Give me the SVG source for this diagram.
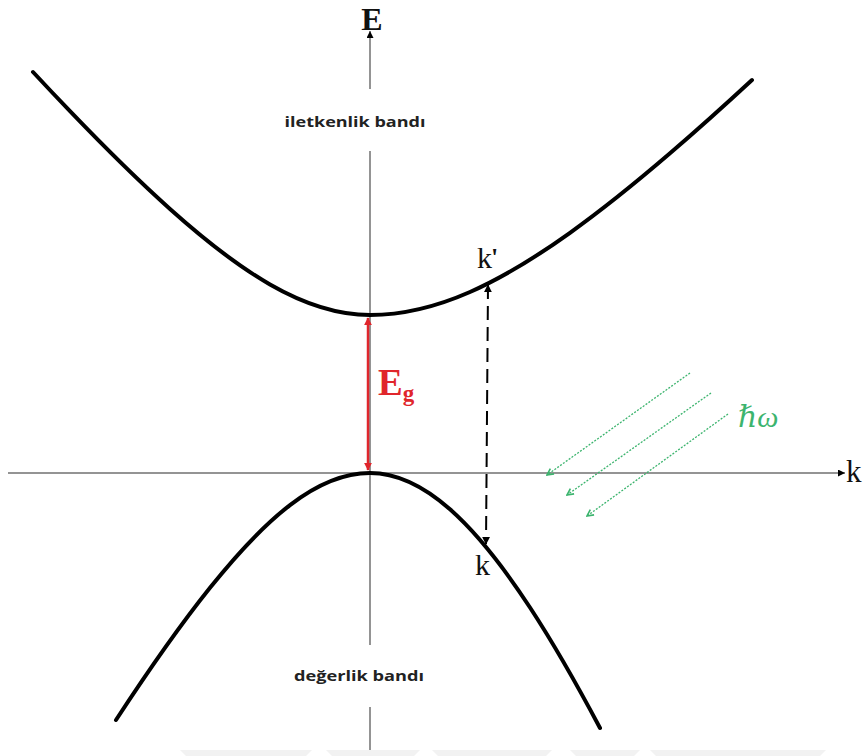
<svg xmlns="http://www.w3.org/2000/svg" width="863" height="756" viewBox="0 0 863 756">
  <style>
    .axis { stroke: #707070; stroke-width: 1.5; fill: none; }
    .band { stroke: #000; stroke-width: 4; fill: none; stroke-linecap: round; }
    .lbl { font-family: "Open Sans", "DejaVu Sans", sans-serif; font-weight: bold; font-size: 14px; fill: #222; }
    .serif { font-family: "Liberation Serif", "DejaVu Serif", serif; fill: #111; }
    .photon { stroke: #3cb46e; stroke-width: 1.3; stroke-dasharray: 2 1.5; fill: none; }
  </style>
  <defs>
    <marker id="axArrow" viewBox="0 0 10 10" refX="10" refY="5" markerWidth="7" markerHeight="7" markerUnits="userSpaceOnUse" orient="auto">
      <path d="M0,0 L10,5 L0,10 z" fill="#000"/>
    </marker>
    <marker id="redArrow" viewBox="0 0 10 10" refX="9" refY="5" markerWidth="8" markerHeight="8" markerUnits="userSpaceOnUse" orient="auto-start-reverse">
      <path d="M0,0 L10,5 L0,10 z" fill="#e0262c"/>
    </marker>
    <marker id="blkArrow" viewBox="0 0 10 10" refX="9" refY="5" markerWidth="8" markerHeight="8" markerUnits="userSpaceOnUse" orient="auto-start-reverse">
      <path d="M0,0 L10,5 L0,10 z" fill="#000"/>
    </marker>
    <marker id="grnArrow" viewBox="0 0 10 10" refX="9" refY="5" markerWidth="8" markerHeight="8" markerUnits="userSpaceOnUse" orient="auto">
      <path d="M1,1 L9,5 L1,9" fill="none" stroke="#3cb46e" stroke-width="2"/>
    </marker>
  </defs>
  <rect width="863" height="756" fill="#fff"/>

  <g id="watermark" fill="#f2f2f2">
    <polygon points="180,750 312,750 306,756 186,756"/>
    <polygon points="326,750 420,750 414,756 332,756"/>
    <polygon points="432,750 552,750 546,756 438,756"/>
    <polygon points="570,750 640,750 634,756 576,756"/>
    <polygon points="650,750 826,750 820,756 656,756"/>
  </g>

  <g id="axes">
    <line class="axis" x1="8" y1="473" x2="845" y2="473" marker-end="url(#axArrow)"/>
    <line class="axis" x1="370" y1="89" x2="370" y2="31" marker-end="url(#axArrow)"/>
    <line class="axis" x1="370" y1="151" x2="370" y2="645"/>
    <line class="axis" x1="370" y1="707" x2="370" y2="750"/>
    <text class="serif" x="372" y="30" font-size="32" font-weight="bold" text-anchor="middle">E</text>
    <text class="serif" x="846" y="482" font-size="31">k</text>
  </g>

  <g id="conduction-band">
    <path class="band" d="M33,72 Q51.6,92 70,111.2 Q126.4,170 170,209 Q226.2,259.3 270,284.5 Q323.1,315 370,315 Q417.7,315 470,292 Q514.8,272.3 570,232.8 Q614.2,201.2 670,153.3 Q707.9,120.8 752,80"/>
    <text class="lbl" x="355" y="127" text-anchor="middle" textLength="141" lengthAdjust="spacingAndGlyphs">iletkenlik bandı</text>
  </g>

  <g id="valence-band">
    <path class="band" d="M116,720 Q169,639 210,587.8 Q254.3,532.5 290,505.1 Q331.8,473 370,473 Q408.8,473 450,509.3 Q487.2,542.1 530,607.5 Q562.3,656.9 600,728"/>
    <text class="lbl" x="359" y="681" text-anchor="middle" textLength="130" lengthAdjust="spacingAndGlyphs">değerlik bandı</text>
  </g>

  <g id="connectors">
    <line x1="368" y1="318" x2="368" y2="470" stroke="#e0262c" stroke-width="2.5" marker-start="url(#redArrow)" marker-end="url(#redArrow)"/>
    <line x1="488" y1="285" x2="486" y2="544" stroke="#000" stroke-width="2" stroke-dasharray="14 7" marker-start="url(#blkArrow)" marker-end="url(#blkArrow)"/>
    <line class="photon" x1="690" y1="373" x2="547" y2="475" marker-end="url(#grnArrow)"/>
    <line class="photon" x1="711" y1="393" x2="567" y2="495" marker-end="url(#grnArrow)"/>
    <line class="photon" x1="728" y1="414" x2="587" y2="516" marker-end="url(#grnArrow)"/>
  </g>

  <g id="labels">
    <text x="378" y="395" font-family="Liberation Serif, DejaVu Serif, serif" font-weight="bold" font-size="37" fill="#e0262c">E<tspan font-size="23" dy="6">g</tspan></text>
    <text class="serif" x="477" y="268" font-size="30">k<tspan font-size="26" font-weight="bold" dx="-1" dy="-2">'</tspan></text>
    <text class="serif" x="475" y="575" font-size="30">k</text>
    <text x="738" y="427" font-family="Liberation Serif, DejaVu Serif, serif" font-style="italic" font-size="30" fill="#3cb46e">ℏω</text>
  </g>
</svg>
